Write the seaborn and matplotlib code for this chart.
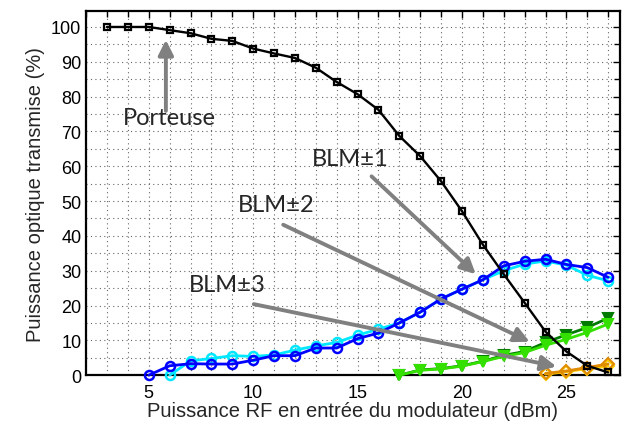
import matplotlib
matplotlib.use("Agg")
import matplotlib.pyplot as plt
from matplotlib.ticker import MultipleLocator
import seaborn as sns
import pandas as pd

# ---- data ----
x_carrier = list(range(3, 28))
y_carrier = [100, 100, 100, 99.1, 98.2, 96.6, 96.0, 93.8, 92.4, 91.1, 88.3, 84.2,
             80.7, 76.2, 68.7, 62.9, 55.7, 47.1, 37.5, 29.0, 20.8, 12.5, 6.8, 2.7, 0.8]

x_blm1a = list(range(5, 28))
y_blm1a = [0, 2.7, 3.3, 3.2, 3.2, 4.3, 5.6, 5.6, 7.8, 7.8, 10.5, 12.1, 15.0, 18.1,
           21.9, 24.7, 27.4, 31.4, 32.7, 33.3, 31.8, 30.9, 28.1]
x_blm1b = list(range(6, 28))
y_blm1b = [0, 4.1, 4.8, 5.6, 5.4, 5.8, 7.2, 8.4, 9.4, 11.5, 13.2, 15.0, 18.1,
           21.9, 24.7, 27.4, 30.0, 31.9, 32.8, 31.6, 28.7, 27.1]

x_blm2a = list(range(17, 28))
y_blm2a = [0, 1.5, 1.9, 2.7, 4.0, 5.7, 6.8, 9.4, 11.6, 13.7, 16.4]
x_blm2b = list(range(17, 28))
y_blm2b = [0, 1.4, 1.8, 2.6, 3.9, 5.4, 6.5, 8.6, 10.3, 12.3, 14.7]

x_blm3a = [24, 25, 26, 27]
y_blm3a = [0.5, 1.2, 2.2, 3.2]
x_blm3b = [24, 25, 26, 27]
y_blm3b = [0.3, 1.0, 1.9, 2.6]

x_ticks = [5, 10, 15, 20, 25]
y_ticks = list(range(0, 101, 10))

sns.set_style("white")
plt.rcParams["font.family"] = ["Liberation Sans", "DejaVu Sans"]

fig = plt.figure(figsize=(6.24, 4.27), dpi=100)
ax = fig.add_axes([0.138, 0.119, 0.855, 0.853])

def draw(xs, ys, color, marker, ms, lw, mfc="none", mew=1.5, z=2):
    df = pd.DataFrame({"x": xs, "y": ys})
    sns.lineplot(data=df, x="x", y="y", ax=ax, color=color, marker=marker,
                 markersize=ms, linewidth=lw, markerfacecolor=mfc,
                 markeredgecolor=color, markeredgewidth=mew, zorder=z,
                 clip_on=False)

draw(x_blm3b, y_blm3b, "#ffd000", "D", 6, 2.0, z=3)
draw(x_blm3a, y_blm3a, "#e08a00", "D", 6, 2.0, z=4)
draw(x_blm2a, y_blm2a, "#007a00", "v", 7, 2.0, mfc="#007a00", z=5)
draw(x_blm2b, y_blm2b, "#33e000", "v", 7, 2.0, mfc="#33e000", z=6)
draw(x_blm1b, y_blm1b, "#00e8ff", "o", 6.5, 2.0, mew=1.8, z=7)
draw(x_blm1a, y_blm1a, "#0000ff", "o", 6.5, 2.0, mew=1.8, z=8)
draw(x_carrier, y_carrier, "black", "s", 5, 1.7, mew=1.6, z=9)

ax.set_xlim(2, 27.55)
ax.set_ylim(0, 104.6)
ax.set_xticks(x_ticks)
ax.set_yticks(y_ticks)
ax.xaxis.set_minor_locator(MultipleLocator(1))
ax.yaxis.set_minor_locator(MultipleLocator(5))
ax.grid(True, which="both", linestyle=(0, (1, 3)), color="#666666", linewidth=0.8)
ax.tick_params(which="both", direction="in", top=True, right=True, labelsize=13,
               colors="black")
ax.tick_params(which="major", length=5, width=1)
ax.tick_params(which="minor", length=4, width=1)
ax.tick_params(axis="x", pad=6)
for s in ax.spines.values():
    s.set_color("black")
    s.set_linewidth(1.6)
ax.set_xlabel("Puissance RF en entrée du modulateur (dBm)", fontsize=14.5, labelpad=0)
ax.set_ylabel("Puissance optique transmise (%)", fontsize=14.5, labelpad=4)

afont = ["Lato", "DejaVu Sans"]
arrow = dict(arrowstyle="-|>,head_length=0.9,head_width=0.45", color="#808080",
             lw=2.8, shrinkA=0, shrinkB=0)
ax.annotate("", xy=(5.82, 96.3), xytext=(5.82, 75.9), arrowprops=arrow, zorder=10)
ax.annotate("", xy=(20.66, 29.0), xytext=(15.67, 57.1), arrowprops=arrow, zorder=10)
ax.annotate("", xy=(23.24, 9.6), xytext=(11.44, 43.2), arrowprops=arrow, zorder=10)
ax.annotate("", xy=(24.52, 2.5), xytext=(10.03, 20.4), arrowprops=arrow, zorder=10)

ax.text(5.97, 74.1, "Porteuse", fontsize=17, family=afont, ha="center", va="center", zorder=11)
ax.text(14.65, 62.1, "BLM±1", fontsize=17, family=afont, ha="center", va="center", zorder=11)
ax.text(11.09, 49.1, "BLM±2", fontsize=17, family=afont, ha="center", va="center", zorder=11)
ax.text(8.78, 26.1, "BLM±3", fontsize=17, family=afont, ha="center", va="center", zorder=11)

fig.savefig("out.png", dpi=100)
